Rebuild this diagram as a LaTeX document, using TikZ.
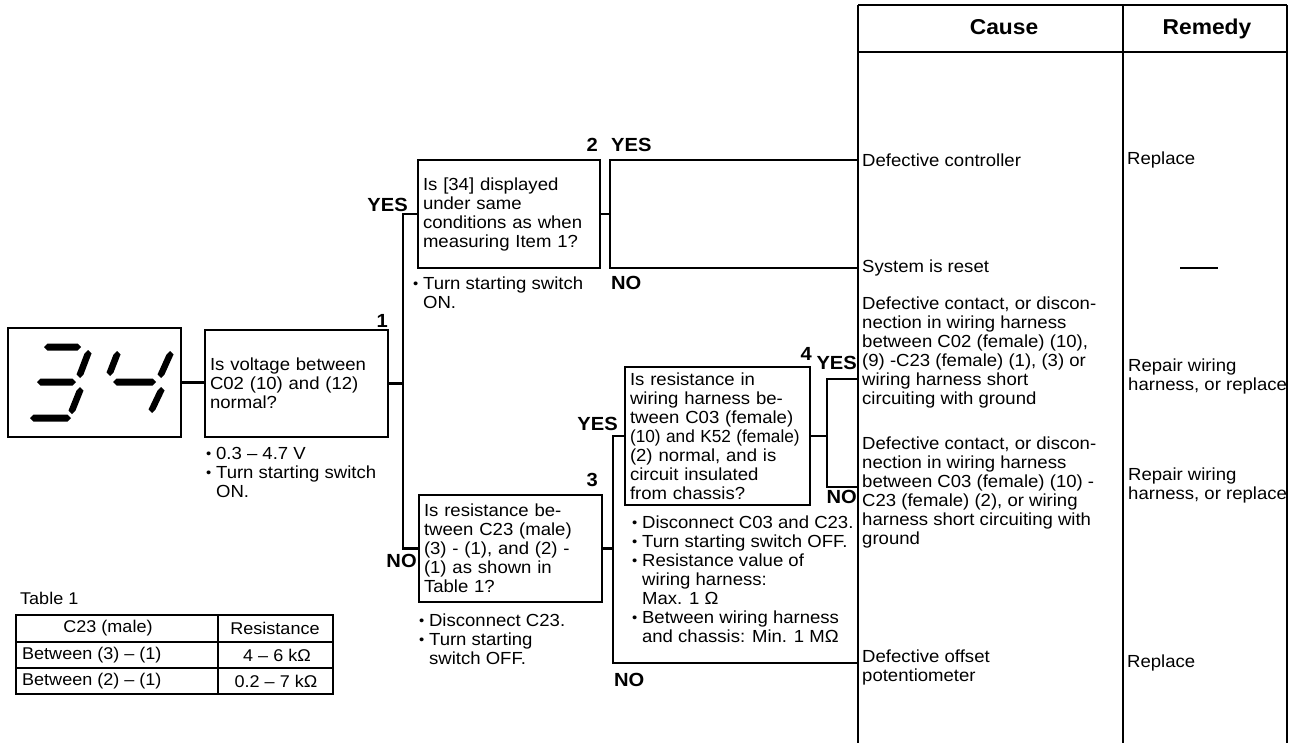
\documentclass[tikz,border=0pt]{standalone}
\usepackage{fontspec}
\usepackage{graphicx}
\setmainfont{Liberation Sans}[FakeStretch=1.06]
\usetikzlibrary{arrows.meta,positioning,calc}

\newcommand{\bul}{\makebox[10pt][l]{\raisebox{1pt}{\fontsize{14}{14}\selectfont •}}}
\newcommand{\ind}{\hspace*{10pt}}
% seven-segment bars: horizontal {x1}{x2}{y}, slanted {xtop}{ytop}{xbot}{ybot}
\newcommand{\hseg}[3]{\fill (#1,#3) -- (#1+3.5,#3-3.5) -- (#2-3.5,#3-3.5) -- (#2,#3)
  -- (#2-3.5,#3+3.5) -- (#1+3.5,#3+3.5) -- cycle;}
\newcommand{\vseg}[4]{\fill (#1,#2) -- (#1+3.5,#2+3.5) -- (#3+3.5,#4-3.5) -- (#3,#4)
  -- (#3-3.5,#4-3.5) -- (#1-3.5,#2+3.5) -- cycle;}

\tikzset{
  body/.style={font=\fontsize{17.5}{19}\selectfont},
  qbox/.style={draw,line width=2.2pt,body,align=left,inner xsep=5pt,inner ysep=2pt},
  dispbox/.style={draw,line width=2.2pt,minimum width=173pt,minimum height=109pt},
  wire/.style={line width=2.2pt},
  colrule/.style={line width=2.2pt},
  tline/.style={line width=1.3pt},
  lbl/.style={font=\fontsize{19}{20}\selectfont\bfseries,inner sep=1pt},
  note/.style={body,align=left,inner sep=1pt,anchor=north west},
  cause/.style={body,align=left,inner sep=4pt,anchor=west},
  remedy/.style={body,align=left,inner sep=4pt,anchor=west},
  head/.style={font=\fontsize{21.5}{22}\selectfont\bfseries,anchor=base},
  tcell/.style={font=\fontsize{17}{18}\selectfont,inner sep=2pt},
}

\begin{document}
\begin{tikzpicture}[x=1pt,y=-1pt]
  \useasboundingbox (0,0) rectangle (1290,743);

  % fault code display
  \node[dispbox] (disp) at (94.5,382.5) {};
  \hseg{44}{81}{347}
  \hseg{37}{76}{382}
  \hseg{30}{71}{418}
  \vseg{88}{350}{80}{378}
  \vseg{80}{387}{72}{414}
  \vseg{117}{351}{110}{376}
  \hseg{113}{156}{382}
  \vseg{170}{351}{161}{378}
  \vseg{161}{387}{152}{413}

  % check items
  \node[qbox,minimum width=183pt,minimum height=107pt,text width=173pt] (q1) at (296.5,383.5)
    {Is voltage between\\C02 (10) and (12)\\normal?};
  \node[qbox,minimum width=182pt,minimum height=108pt,text width=172pt] (q2) at (509,214)
    {Is [34] displayed\\under same\\conditions as when\\measuring Item 1?};
  \node[qbox,minimum width=183pt,minimum height=107pt,text width=173pt] (q3) at (510.5,548.5)
    {Is resistance be-\\tween C23 (male)\\(3) - (1), and (2) -\\(1) as shown in\\Table 1?};
  \node[qbox,minimum width=185pt,minimum height=138pt,text width=175pt] (q4) at (717.5,436)
    {Is resistance in\\wiring harness be-\\tween C03 (female)\\\scalebox{0.93}[1]{(10) and K52 (female)}\\(2) normal, and is\\circuit insulated\\from chassis?};

  \node[lbl,anchor=south east] (k1) at (q1.north east) {1};
  \node[lbl,anchor=south east] (k2) at ([xshift=-2pt,yshift=6pt]q2.north east) {2};
  \node[lbl,anchor=south east] (k3) at ([xshift=-4pt,yshift=6pt]q3.north east) {3};
  \node[lbl,anchor=south east] (k4) at ([xshift=2pt,yshift=4pt]q4.north east) {4};

  \node[note,below=8pt of q1.south west,anchor=north west,xshift=1pt] (n1)
    {\bul 0.3 – 4.7 V\\\bul Turn starting switch\\\ind ON.};
  \node[note,below=7pt of q2.south west,anchor=north west,xshift=-5pt] (n2)
    {\bul Turn starting switch\\\ind ON.};
  \node[note,below=10pt of q3.south west,anchor=north west] (n3)
    {\bul Disconnect C23.\\\bul Turn starting\\\ind switch OFF.};
  \node[note,below=9pt of q4.south west,anchor=north west,xshift=7pt] (n4)
    {\bul Disconnect C03 and C23.\\\bul Turn starting switch OFF.\\\bul Resistance value of\\\ind wiring harness:\\\ind Max. 1 Ω\\\bul Between wiring harness\\\ind and chassis: Min. 1 MΩ};

  % cause / remedy columns
  \coordinate (cl) at (858,5);
  \coordinate (cm) at (1123,5);
  \coordinate (cr) at (1287,5);
  \coordinate (hd) at (0,52);
  \coordinate (bot) at (0,743);
  \draw[colrule] (cl) -- (cr);
  \draw[colrule] (cl |- hd) -- (cr |- hd);
  \draw[colrule] (cl) -- (cl |- bot);
  \draw[colrule] (cm) -- (cm |- bot);
  \draw[colrule] (cr) -- (cr |- bot);
  \node[head] (hc) at (1004,35) {Cause};
  \node[head] (hr) at (1207,35) {Remedy};

  \coordinate (b1) at (403,0);
  \coordinate (b2) at (610,0);
  \coordinate (b3) at (613,0);
  \coordinate (b4) at (827,0);
  \coordinate (y2t) at (0,160);
  \coordinate (y2b) at (0,268);
  \coordinate (y4t) at (0,379);
  \coordinate (y4b) at (0,487);
  \coordinate (y3b) at (0,663);

  \node[cause] (c1) at (cl |- y2t) {Defective controller};
  \node[cause] (c2) at (cl |- y2b) {System is reset};
  \node[cause] (c3) at (858,352)
    {Defective contact, or discon-\\nection in wiring harness\\between C02 (female) (10),\\(9) -C23 (female) (1), (3) or\\wiring harness short\\circuiting with ground};
  \node[cause] (c4) at (858,492)
    {Defective contact, or discon-\\nection in wiring harness\\between C03 (female) (10) -\\C23 (female) (2), or wiring\\harness short circuiting with\\ground};
  \node[cause] (c5) at (858,667) {Defective offset\\potentiometer};

  \node[remedy] (r1) at (cm |- y2t) {Replace};
  \node (r2) at (1199,268) {\rule{38pt}{1.6pt}};
  \node[remedy] (r3) at (1124,376) {Repair wiring\\harness, or replace};
  \node[remedy] (r4) at (1124,485) {Repair wiring\\harness, or replace};
  \node[remedy] (r5) at (cm |- y3b) {Replace};

  % connectors
  \draw[wire] (disp.east) -- (disp.east -| q1.west);
  \draw[wire] (q1.east) -- (q1.east -| b1);
  \draw[wire] (q2.west) -- (q2.west -| b1) -- (q3.west -| b1) -- (q3.west);
  \draw[wire] (q2.east) -- (q2.east -| b2);
  \draw[wire] (cl |- y2t) -- (b2 |- y2t) -- (b2 |- y2b) -- (cl |- y2b);
  \draw[wire] (q3.east) -- (q3.east -| b3);
  \draw[wire] (q4.west) -- (q4.west -| b3) -- (b3 |- y3b) -- (cl |- y3b);
  \draw[wire] (q4.east) -- (q4.east -| b4);
  \draw[wire] (cl |- y4t) -- (b4 |- y4t) -- (b4 |- y4b) -- (cl |- y4b);

  \node[lbl,anchor=south east] (yes1) at ([xshift=-8pt,yshift=1pt]q2.west) {YES};
  \node[lbl,anchor=north east] (no1) at ([yshift=-5pt]q3.west) {NO};
  \node[lbl,anchor=south west] (yes2) at ([yshift=7pt]b2 |- y2t) {YES};
  \node[lbl,anchor=north west] (no2) at ([yshift=-7pt]b2 |- y2b) {NO};
  \node[lbl,anchor=south east] (yes3) at ([xshift=-5pt,yshift=4pt]q4.west) {YES};
  \node[lbl,anchor=north west] (no3) at ([yshift=-9pt]b3 |- y3b) {NO};
  \node[lbl,anchor=south east] (yes4) at ([yshift=8pt]cl |- y4t) {YES};
  \node[lbl,anchor=north east] (no4) at ([yshift=-2pt]cl |- y4b) {NO};

  % table 1
  \node[tcell,anchor=west] (t0) at (18,598) {Table 1};
  \draw[tline] (16,615) rectangle (333,694);
  \draw[tline] (16,642) -- (333,642);
  \draw[tline] (16,668) -- (333,668);
  \draw[tline] (218,615) -- (218,694);
  \node[tcell] (th1) at (108,628.5) {C23 (male)};
  \node[tcell] (th2) at (275,628.5) {Resistance};
  \node[tcell,anchor=west] (tr1) at (20,655) {Between (3) – (1)};
  \node[tcell] (tv1) at (277,655) {4 – 6 kΩ};
  \node[tcell,anchor=west] (tr2) at (20,681) {Between (2) – (1)};
  \node[tcell] (tv2) at (276,681) {0.2 – 7 kΩ};
\end{tikzpicture}
\end{document}
